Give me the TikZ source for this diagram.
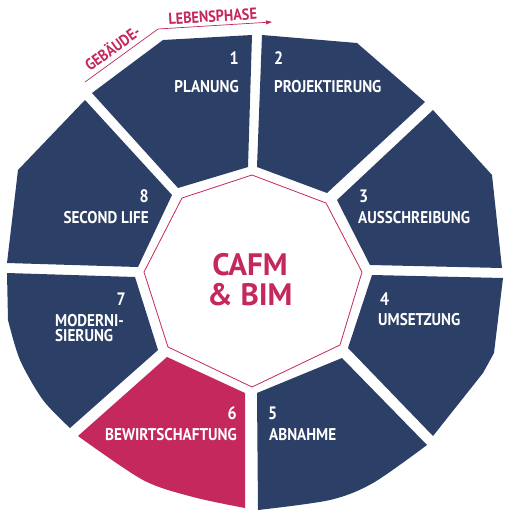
\documentclass[tikz,border=0pt]{standalone}
\usepackage{fontspec}
\setmainfont{PT Sans}
\newfontfamily\condfont[FakeStretch=0.89]{PT Sans}
\usetikzlibrary{arrows.meta}
\definecolor{navy}{HTML}{2C3F66}
\definecolor{rose}{HTML}{C4285C}
\begin{document}
\begin{tikzpicture}[x=1pt,y=-1pt,
  seg/.style={fill=navy},
  hl/.style={fill=rose},
  num/.style={text=white,font=\condfont\bfseries\fontsize{18}{20}\selectfont,inner sep=0pt},
  lab/.style={text=white,font=\condfont\bfseries\fontsize{17}{18}\selectfont,inner sep=0pt},
  core/.style={draw=rose,line width=0.8pt,fill=white},
  phase/.style={text=rose,font=\condfont\bfseries\fontsize{16}{18}\selectfont,inner sep=0pt},
  flow/.style={draw=rose,line width=0.7pt,-{Triangle[length=6pt,width=4pt]}}]
\useasboundingbox (0,0) rectangle (512,512);
% segments
\fill[seg] (92,93) -- (163,40) -- (252,35) -- (248,167) -- (178,188) -- cycle;
\fill[seg] (262,35) -- (357,43) -- (425,102) -- (327,193) -- (257,167) -- cycle;
\fill[seg] (337,200) -- (433,110) -- (492,175) -- (502,268) -- (370,265) -- cycle;
\fill[seg] (372,275) -- (503,278) -- (494,353) -- (483,373) -- (433,436) -- (348,348) -- cycle;
\fill[seg] (257,393) -- (342,358) -- (427,445) -- plot[smooth] coordinates {(427,445) (373,483) (330,500) (258,510)} -- cycle;
\fill[hl] (167,357) -- (245,393) -- (245,508) -- plot[smooth] coordinates {(245,508) (193,497) (143,480) (78,436)} -- cycle;
\fill[seg] (135,277) -- (158,350) -- (70,428) -- plot[smooth] coordinates {(70,428) (43,400) (20,360) (8,320)} -- (7,273) -- cycle;
\fill[seg] (85,100) -- (172,195) -- (138,267) -- (7,263) -- (18,170) -- cycle;
% core
\path[core] (252,175) -- (326,203) -- (362,272) -- (340,345) -- (252,387) -- (168,347) -- (144,272) -- (182,198) -- cycle;
\node[text=rose,font=\bfseries\fontsize{31}{30}\selectfont,inner sep=0pt,anchor=base] (cafm) at (250,275) {CAFM};
\node[text=rose,font=\bfseries\fontsize{31}{30}\selectfont,inner sep=0pt,anchor=base] (bim) at (250,305) {\& BIM};
% labels
\node[num,anchor=base east] (n1) at (239,64) {1};
\node[lab,anchor=base east] (l1) at (239,92) {PLANUNG};
\node[num,anchor=base west] (n2) at (274,64) {2};
\node[lab,anchor=base west] (l2) at (274,92) {PROJEKTIERUNG};
\node[num,anchor=base west] (n3) at (359,202) {3};
\node[lab,anchor=base west] (l3) at (358,223) {AUSSCHREIBUNG};
\node[num,anchor=base west] (n4) at (380,305) {4};
\node[lab,anchor=base west] (l4) at (378,325) {UMSETZUNG};
\node[num,anchor=base west] (n5) at (268,419) {5};
\node[lab,anchor=base west] (l5) at (269,440) {ABNAHME};
\node[num,anchor=base east] (n6) at (237,419) {6};
\node[lab,anchor=base east] (l6) at (237,440) {BEWIRTSCHAFTUNG};
\node[num,anchor=base east] (n7) at (126,305) {7};
\node[lab,anchor=base west] (l7a) at (55,326) {MODERNI-};
\node[lab,anchor=base west] (l7b) at (55,341) {SIERUNG};
\node[num,anchor=base east] (n8) at (149,202) {8};
\node[lab,anchor=base east] (l8) at (149,223) {SECOND LIFE};
% life phase arrow
\coordinate (a0) at (85,82);
\coordinate (a1) at (158,29);
\coordinate (a2) at (272,22);
\draw[flow] (a0) -- (a1) -- (a2);
\node[phase,rotate=36,anchor=base] (geb) at (116,53) {GEBÄUDE-};
\node[phase,rotate=3.5,anchor=base] (leb) at (213,22) {LEBENSPHASE};
\end{tikzpicture}
\end{document}
